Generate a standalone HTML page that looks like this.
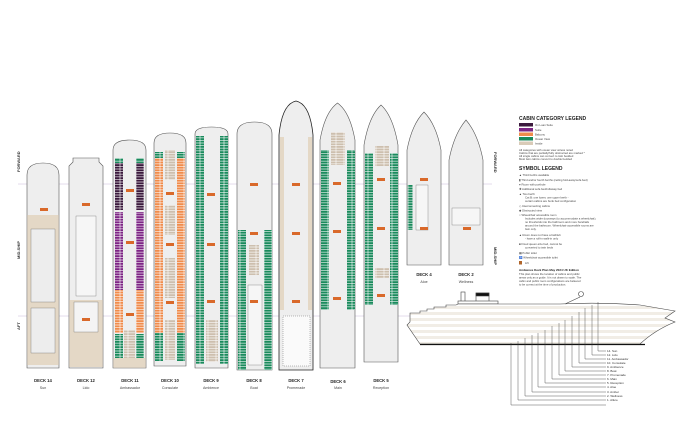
<!DOCTYPE html>
<html><head><meta charset="utf-8"><style>
html,body{margin:0;padding:0;background:#fff;}
svg{display:block;font-family:"Liberation Sans",sans-serif;}
</style></head><body>
<svg width="695" height="421" viewBox="0 0 695 421" xmlns="http://www.w3.org/2000/svg">
<defs>
<pattern id="g" width="8" height="2.6" patternUnits="userSpaceOnUse"><rect width="8" height="2.6" fill="#fff"/><rect x="0.3" y="0.3" width="7.4" height="2" fill="#1a8a5c"/></pattern>
<pattern id="o" width="8" height="2.6" patternUnits="userSpaceOnUse"><rect width="8" height="2.6" fill="#fff"/><rect x="0.3" y="0.3" width="7.4" height="2" fill="#f08c4c"/></pattern>
<pattern id="p" width="8" height="2.6" patternUnits="userSpaceOnUse"><rect width="8" height="2.6" fill="#fff"/><rect x="0.3" y="0.3" width="7.4" height="2" fill="#7d2585"/></pattern>
<pattern id="dp" width="8" height="2.6" patternUnits="userSpaceOnUse"><rect width="8" height="2.6" fill="#fff"/><rect x="0.3" y="0.3" width="7.4" height="2" fill="#3b1a3d"/></pattern>
<pattern id="b" width="8" height="2.6" patternUnits="userSpaceOnUse"><rect width="8" height="2.6" fill="#fff"/><rect x="0.3" y="0.3" width="7.4" height="2" fill="#cdbfae"/></pattern>
<pattern id="h" width="10" height="6" patternUnits="userSpaceOnUse"><rect width="10" height="3" fill="#f1ede6"/><rect y="3" width="10" height="3" fill="#fff"/></pattern>
</defs>

<!-- guide lines -->
<line x1="18" y1="184" x2="492" y2="184" stroke="#c8b8d8" stroke-width="0.5"/>
<line x1="18" y1="316" x2="492" y2="316" stroke="#c8b8d8" stroke-width="0.5"/>
<g font-size="4" fill="#333" font-weight="bold">
<text transform="translate(20,172) rotate(-90)">FORWARD</text>
<text transform="translate(20,259) rotate(-90)">MID-SHIP</text>
<text transform="translate(20,330) rotate(-90)">AFT</text>
<text transform="translate(494,152) rotate(90)">FORWARD</text>
<text transform="translate(494,247) rotate(90)">MID-SHIP</text>
</g>

<g stroke="#555" stroke-width="0.6">
<!-- Deck 14 -->
<path d="M27 368 V175 Q27 163 43 163 Q59 163 59 175 V368 Z" fill="#eeeeee"/>
<rect x="27.3" y="215" width="31.4" height="150" fill="#e4d8c6" stroke="none"/>
<rect x="31" y="229" width="24" height="73" fill="#ededed" stroke-width="0.3"/>
<rect x="31" y="308" width="24" height="45" fill="#ededed" stroke-width="0.3"/>
<!-- Deck 12 -->
<path d="M69 368 V166 L73 162 L73 158 H99 V162 L103 166 V368 Z" fill="#eeeeee"/>
<rect x="69.3" y="300" width="33.4" height="67" fill="#e4d8c6" stroke="none"/>
<rect x="76" y="216" width="20" height="80" fill="#f6f6f6" stroke-width="0.3"/>
<rect x="74" y="302" width="24" height="30" fill="#f4f4f4" stroke-width="0.3"/>
<!-- Deck 11 -->
<path d="M113 368 V150 Q113 140 129.5 140 Q146 140 146 150 V368 Z" fill="#eeeeee"/>
<rect x="115" y="158" width="8" height="5" fill="url(#g)" stroke="none"/>
<rect x="136" y="158" width="8" height="5" fill="url(#g)" stroke="none"/>
<rect x="115" y="163" width="8" height="47" fill="url(#dp)" stroke="none"/>
<rect x="136" y="163" width="8" height="47" fill="url(#dp)" stroke="none"/>
<rect x="115" y="212" width="8" height="78" fill="url(#p)" stroke="none"/>
<rect x="136" y="212" width="8" height="78" fill="url(#p)" stroke="none"/>
<rect x="115" y="290" width="8" height="43" fill="url(#o)" stroke="none"/>
<rect x="136" y="290" width="8" height="43" fill="url(#o)" stroke="none"/>
<rect x="115" y="334" width="8" height="24" fill="url(#g)" stroke="none"/>
<rect x="136" y="334" width="8" height="24" fill="url(#g)" stroke="none"/>
<rect x="124" y="330" width="11" height="28" fill="url(#b)" stroke="none"/>
<rect x="113.3" y="358" width="32.4" height="9.7" fill="#e4d8c6" stroke="none"/>
<!-- Deck 10 -->
<path d="M154 366 V143 Q154 133 170 133 Q186 133 186 143 V366 Z" fill="#eeeeee"/>
<rect x="155" y="152" width="8" height="6" fill="url(#g)" stroke="none"/>
<rect x="177" y="152" width="8" height="6" fill="url(#g)" stroke="none"/>
<rect x="155" y="158" width="8" height="175" fill="url(#o)" stroke="none"/>
<rect x="177" y="158" width="8" height="175" fill="url(#o)" stroke="none"/>
<rect x="155" y="333" width="8" height="28" fill="url(#g)" stroke="none"/>
<rect x="177" y="333" width="8" height="28" fill="url(#g)" stroke="none"/>
<rect x="165" y="150" width="10" height="30" fill="url(#b)" stroke="none"/>
<rect x="165" y="205" width="10" height="30" fill="url(#b)" stroke="none"/>
<rect x="165" y="258" width="10" height="40" fill="url(#b)" stroke="none"/>
<rect x="165" y="320" width="10" height="40" fill="url(#b)" stroke="none"/>
<!-- Deck 9 -->
<path d="M195 368 V134 Q195 127 211.5 127 Q228 127 228 134 V368 Z" fill="#eeeeee"/>
<rect x="196" y="136" width="8" height="228" fill="url(#g)" stroke="none"/>
<rect x="220" y="136" width="8" height="228" fill="url(#g)" stroke="none"/>
<rect x="206" y="320" width="12" height="42" fill="url(#b)" stroke="none"/>
<!-- Deck 8 -->
<path d="M237 370 V134 Q237 122 254.5 122 Q272 122 272 134 V370 Z" fill="#eeeeee"/>
<rect x="238" y="230" width="8" height="140" fill="url(#g)" stroke="none"/>
<rect x="264" y="230" width="8" height="140" fill="url(#g)" stroke="none"/>
<rect x="249" y="245" width="10" height="30" fill="url(#b)" stroke="none"/>
<rect x="248" y="285" width="14" height="80" fill="#f6f6f6" stroke-width="0.3"/>
<!-- Deck 7 -->
<path d="M279 370 V135 Q282 104 296 101 Q310 104 313 135 V370 Z" fill="#eeeeee" stroke="#222" stroke-width="0.8"/>
<rect x="280" y="137" width="4" height="173" fill="#e4d8c6" stroke="none"/>
<rect x="308" y="137" width="4" height="173" fill="#e4d8c6" stroke="none"/>
<rect x="283" y="316" width="27" height="50" fill="#fafafa" stroke-dasharray="1,1" stroke-width="0.4"/>
<!-- Deck 6 -->
<path d="M320 368 V140 Q325 112 337.5 103 Q350 112 355 140 V368 Z" fill="#eeeeee"/>
<rect x="321" y="150" width="8" height="160" fill="url(#g)" stroke="none"/>
<rect x="347" y="150" width="8" height="160" fill="url(#g)" stroke="none"/>
<rect x="331" y="132" width="14" height="33" fill="url(#b)" stroke="none"/>
<!-- Deck 5 -->
<path d="M364 362 V145 Q369 116 381 105 Q393 116 398 145 V362 Z" fill="#eeeeee"/>
<rect x="365" y="153" width="8" height="152" fill="url(#g)" stroke="none"/>
<rect x="390" y="153" width="8" height="152" fill="url(#g)" stroke="none"/>
<rect x="375" y="146" width="14" height="20" fill="url(#b)" stroke="none"/>
<rect x="375" y="268" width="14" height="10" fill="url(#b)" stroke="none"/>
<!-- Deck 4 -->
<path d="M407 265 V150 Q412 124 424 112 Q436 124 441 150 V265 Z" fill="#eeeeee"/>
<rect x="407.5" y="185" width="5" height="45" fill="url(#g)" stroke="none"/>
<rect x="416" y="185" width="12" height="45" fill="#f6f6f6" stroke-width="0.3"/>
<!-- Deck 2 -->
<path d="M449 265 V160 Q454 134 466 120 Q478 134 483 160 V265 Z" fill="#eeeeee"/>
<rect x="452" y="208" width="28" height="17" fill="#f6f6f6" stroke-width="0.3"/>
</g>

<!-- elevators -->
<g fill="#d9692a">
<rect x="40" y="208" width="8" height="3"/><rect x="82" y="203" width="8" height="3"/><rect x="82" y="318" width="8" height="3"/>
<rect x="126" y="189" width="8" height="3"/><rect x="126" y="241" width="8" height="3"/><rect x="126" y="313" width="8" height="3"/>
<rect x="166" y="192" width="8" height="3"/><rect x="166" y="243" width="8" height="3"/><rect x="166" y="301" width="8" height="3"/>
<rect x="207" y="193" width="8" height="3"/><rect x="207" y="243" width="8" height="3"/><rect x="207" y="300" width="8" height="3"/>
<rect x="250" y="183" width="8" height="3"/><rect x="250" y="232" width="8" height="3"/><rect x="250" y="300" width="8" height="3"/>
<rect x="292" y="183" width="8" height="3"/><rect x="292" y="232" width="8" height="3"/><rect x="292" y="300" width="8" height="3"/>
<rect x="333" y="182" width="8" height="3"/><rect x="333" y="230" width="8" height="3"/><rect x="333" y="297" width="8" height="3"/>
<rect x="377" y="178" width="8" height="3"/><rect x="377" y="227" width="8" height="3"/><rect x="377" y="294" width="8" height="3"/>
<rect x="420" y="178" width="8" height="3"/><rect x="420" y="227" width="8" height="3"/><rect x="463" y="227" width="8" height="3"/>
</g>

<!-- deck labels -->
<g font-size="4.2" text-anchor="middle" fill="#222" font-weight="bold">
<text x="43" y="382">DECK 14</text><text x="86" y="382">DECK 12</text><text x="130" y="382">DECK 11</text>
<text x="170" y="382">DECK 10</text><text x="211" y="382">DECK 9</text><text x="254" y="382">DECK 8</text>
<text x="296" y="382">DECK 7</text><text x="338" y="383">DECK 6</text><text x="381" y="382">DECK  5</text>
<text x="424" y="276">DECK  4</text><text x="466" y="276">DECK 2</text>
</g>
<g font-size="3.6" text-anchor="middle" fill="#444">
<text x="43" y="389">Sun</text><text x="86" y="389">Lido</text><text x="130" y="389">Ambassador</text>
<text x="170" y="389">Consulate</text><text x="211" y="389">Ambience</text><text x="254" y="389">Boat</text>
<text x="296" y="389">Promenade</text><text x="338" y="389">Main</text><text x="381" y="389">Reception</text>
<text x="424" y="283">Aloe</text><text x="466" y="283">Wellness</text>
</g>

<!-- legend -->
<text x="519" y="120" font-size="5" font-weight="bold" fill="#222">CABIN CATEGORY LEGEND</text>
<g font-size="2.8" fill="#444">
<rect x="519" y="123" width="14" height="3.5" fill="#3b1a3d"/><text x="535" y="126">On Loan Suite</text>
<rect x="519" y="128" width="14" height="3.5" fill="#7d2585"/><text x="535" y="131">Suite</text>
<rect x="519" y="132.5" width="14" height="3.5" fill="#f08c4c"/><text x="535" y="135.5">Balcony</text>
<rect x="519" y="137" width="14" height="3.5" fill="#1a8a5c"/><text x="535" y="140">Ocean View</text>
<rect x="519" y="141.5" width="14" height="3.5" fill="#d9cbb8"/><text x="535" y="144.5">Inside</text>
<text x="519" y="151">All categories with ocean view unless noted</text>
<text x="519" y="154">Cabins that are partially/fully obstructed are marked *</text>
<text x="519" y="157">All single cabins can convert to twin bedded</text>
<text x="519" y="160">Most twin cabins convert to double bedded</text>
</g>
<text x="519" y="170" font-size="5" font-weight="bold" fill="#222">SYMBOL LEGEND</text>
<g font-size="2.8" fill="#444">
<text x="519" y="176">▲  Third berths available</text>
<text x="519" y="181">▮  Third and/or fourth berths (ceiling fold-away/sofa bed)</text>
<text x="519" y="185.5">●  Room with porthole</text>
<text x="519" y="190">✚  Additional sofa bed/rollaway bed</text>
<text x="519" y="195">▲  Two berth</text>
<text x="525" y="198.5">Cat B: one lower, one upper berth -</text>
<text x="525" y="202">certain cabins are bunk bed configuration</text>
<text x="519" y="207">◇  Interconnecting cabins</text>
<text x="519" y="211.5">◆  Obstructed view</text>
<text x="519" y="216">○  Wheelchair accessible room</text>
<text x="525" y="219.5">Includes wider doorways (to accommodate a wheelchair),</text>
<text x="525" y="223">no thresholds into the bathroom and more handrails</text>
<text x="525" y="226.5">around the bathroom. Wheelchair accessible rooms are</text>
<text x="525" y="230">twin only.</text>
<text x="519" y="236">▲  Room does not have a bathtub</text>
<text x="525" y="239.5">- have a roll-in walk-in only</text>
<text x="519" y="245">■  Fixed queen-size bed, cannot be</text>
<text x="525" y="248.5">converted to twin beds</text>
<text x="519" y="254">▦  Public toilet</text>
<text x="519" y="258.5">♿  Wheelchair accessible toilet</text>
<rect x="519" y="261" width="3" height="3.5" fill="#b0652a"/><text x="525" y="264">Lift</text>
<text x="519" y="271" font-weight="bold" fill="#222" font-size="3">Ambience Deck Plan May 2024 UK Edition</text>
<text x="519" y="275">This plan shows the location of cabins and public</text>
<text x="519" y="278.5">areas only as a guide. It is not drawn to scale. The</text>
<text x="519" y="282">cabin and public room configurations are believed</text>
<text x="519" y="285.5">to be correct at the time of production.</text>
</g>

<!-- ship profile -->
<g stroke="#444" stroke-width="0.6">
<rect x="461" y="292" width="4" height="11" fill="#fff"/>
<rect x="476" y="293" width="13" height="11" fill="#fff"/>
<rect x="476" y="293" width="13" height="3" fill="#111"/>
<rect x="458" y="301" width="40" height="3" fill="#fff"/>
<path d="M410 313 L420 313 L420 311 L427 311 L427 309 L434 309 L434 307 L446 307 L446 305 L456 305 L458 304 L560 304 Q600 302 640 305 L675 311 L665 318 L675 322 Q655 330 640 344 L420 344 L407 325 L410 322 Z" fill="url(#h)"/>
<line x1="420" y1="344.5" x2="645" y2="344.5" stroke="#111" stroke-width="1.2"/>
<circle cx="581" cy="294" r="2.5" fill="#fff"/>
<path d="M565 304 L580 297" fill="none"/>
</g>
<!-- callouts -->
<g stroke="#333" stroke-width="0.4" fill="none">
<path d="M598 302 V351 H606"/><path d="M592 305 V355 H606"/><path d="M585 308 V359 H606"/>
<path d="M579 312 V363 H606"/><path d="M572 316 V367 H606"/><path d="M565 320 V371 H606"/>
<path d="M559 323 V375 H606"/><path d="M552 326 V379 H606"/><path d="M545 330 V383 H606"/>
<path d="M538 333 V387 H606"/><path d="M532 335 V392 H606"/><path d="M525 338 V396 H606"/>
<path d="M518 341 V400 H606"/><path d="M511 343 V405 H606"/>
</g>
<g font-size="3" fill="#333">
<text x="607" y="352">14. Sun</text><text x="607" y="356">12. Lido</text><text x="607" y="360">11. Ambassador</text>
<text x="607" y="364">10. Consulate</text><text x="607" y="368">9.  Ambience</text><text x="607" y="372">8.  Boat</text>
<text x="607" y="376">7.  Promenade</text><text x="607" y="380">6.  Main</text><text x="607" y="384">5.  Reception</text>
<text x="607" y="388">4.  Aloe</text><text x="607" y="393">3.  Amber</text><text x="607" y="397">2.  Wellness</text>
<text x="607" y="401">1.  Allure</text>
</g>
</svg>
</body></html>
